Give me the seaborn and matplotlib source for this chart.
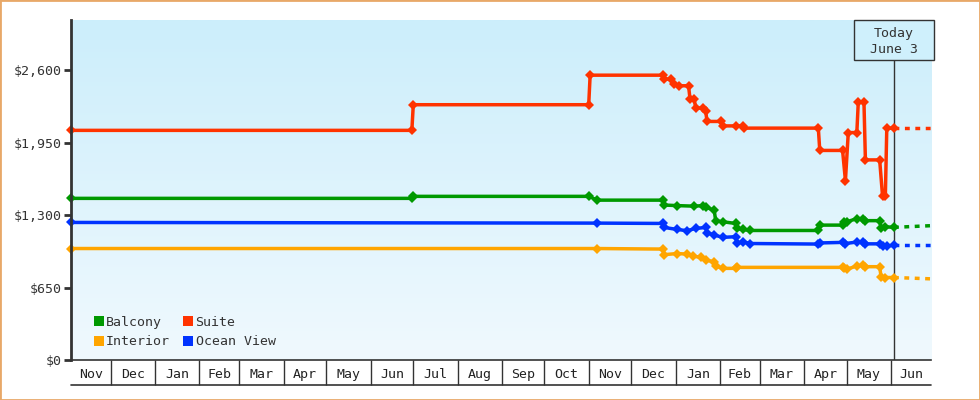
import numpy as np
import pandas as pd
import matplotlib
matplotlib.use("Agg")
import matplotlib.pyplot as plt
import matplotlib.dates as mdates
from matplotlib.lines import Line2D
from matplotlib.patches import Rectangle
from matplotlib.colors import LinearSegmentedColormap
import seaborn as sns

# ---------------- data ----------------
suite_dates = ["2017-11-03", "2018-06-30", "2018-07-01", "2018-11-01", "2018-11-02",
               "2018-12-23", "2018-12-24", "2018-12-29", "2018-12-31", "2019-01-03",
               "2019-01-10", "2019-01-11", "2019-01-14", "2019-01-15", "2019-01-20",
               "2019-01-22", "2019-01-23", "2019-02-02", "2019-02-03", "2019-02-12",
               "2019-02-17", "2019-02-18", "2019-04-11", "2019-04-12", "2019-04-28",
               "2019-04-30", "2019-05-02", "2019-05-08", "2019-05-09", "2019-05-13",
               "2019-05-14", "2019-05-24", "2019-05-26", "2019-05-28", "2019-05-29",
               "2019-06-03"]
suite_values = [2060, 2060, 2290, 2290, 2555,
                2555, 2520, 2520, 2480, 2460,
                2460, 2345, 2340, 2260, 2260,
                2230, 2140, 2140, 2100, 2100,
                2100, 2080, 2080, 1880, 1880,
                1610, 2040, 2040, 2310, 2310,
                1795, 1795, 1475, 1475, 2080,
                2080]

balcony_dates = ["2017-11-03", "2018-06-30", "2018-07-01", "2018-11-01", "2018-11-07",
                 "2018-12-23", "2018-12-24", "2019-01-02", "2019-01-14", "2019-01-20",
                 "2019-01-22", "2019-01-28", "2019-01-29", "2019-02-03", "2019-02-12",
                 "2019-02-13", "2019-02-17", "2019-02-22", "2019-04-11", "2019-04-12",
                 "2019-04-28", "2019-04-29", "2019-05-01", "2019-05-08", "2019-05-12",
                 "2019-05-14", "2019-05-24", "2019-05-25", "2019-05-28", "2019-06-03"]
balcony_values = [1450, 1450, 1468, 1468, 1434,
                  1434, 1390, 1385, 1380, 1385,
                  1370, 1345, 1249, 1240, 1225,
                  1180, 1171, 1162, 1162, 1210,
                  1210, 1235, 1240, 1268, 1268,
                  1250, 1250, 1180, 1195, 1190]

ocean_dates = ["2017-11-03", "2018-11-07", "2018-12-23", "2018-12-24", "2019-01-02",
               "2019-01-09", "2019-01-15", "2019-01-22", "2019-01-23", "2019-01-28",
               "2019-02-03", "2019-02-12", "2019-02-13", "2019-02-17", "2019-02-22",
               "2019-04-11", "2019-04-12", "2019-04-28", "2019-04-30", "2019-05-08",
               "2019-05-12", "2019-05-14", "2019-05-24", "2019-05-26", "2019-05-29",
               "2019-06-03"]
ocean_values = [1234, 1228, 1225, 1189, 1171,
                1160, 1180, 1189, 1141, 1121,
                1100, 1106, 1046, 1061, 1045,
                1040, 1050, 1055, 1045, 1058,
                1058, 1042, 1042, 1020, 1022,
                1030]

interior_dates = ["2017-11-03", "2018-11-07", "2018-12-23", "2018-12-24", "2019-01-02",
                  "2019-01-09", "2019-01-13", "2019-01-19", "2019-01-22", "2019-01-28",
                  "2019-01-29", "2019-02-03", "2019-02-12", "2019-02-13", "2019-04-28",
                  "2019-04-29", "2019-05-01", "2019-05-08", "2019-05-12", "2019-05-14",
                  "2019-05-24", "2019-05-25", "2019-05-28", "2019-06-03"]
interior_values = [1000, 1000, 995, 945, 955,
                   950, 932, 920, 896, 881,
                   843, 822, 822, 831, 831,
                   822, 815, 843, 850, 837,
                   837, 747, 740, 740]

# projection (dotted) after today
proj_dates = ["2019-06-03", "2019-06-29"]
proj_suite = [2080, 2080]
proj_balcony = [1190, 1205]
proj_ocean = [1030, 1030]
proj_interior = [740, 728]

series_names = ["Balcony", "Interior", "Suite", "Ocean View"]
series_colors = ["#009900", "#FFA500", "#FF3300", "#0033FF"]

today_date = "2019-06-03"
today_label = "Today\nJune 3"
x_start, x_end = "2017-11-03", "2019-06-29"

y_ticks = [0, 650, 1300, 1950, 2600]
y_tick_labels = ["$0", "$650", "$1,300", "$1,950", "$2,600"]
y_max = 3050

month_labels = ["Nov", "Dec", "Jan", "Feb", "Mar", "Apr", "May", "Jun", "Jul", "Aug",
                "Sep", "Oct", "Nov", "Dec", "Jan", "Feb", "Mar", "Apr", "May", "Jun"]

# ---------------- style ----------------
sns.set_style("ticks")
plt.rcParams["font.family"] = ["DejaVu Sans Mono", "DejaVu Sans"]
plt.rcParams["font.size"] = 9.5
TXT = "#333333"

W, H = 980, 400
fig = plt.figure(figsize=(W / 100, H / 100), dpi=100)
fig.patch.set_facecolor("white")
L, B, R, T = 71, 40, 931, 380
rect = [L / W, B / H, (R - L) / W, (T - B) / H]

# gradient background
bg = fig.add_axes(rect, zorder=0)
grad = np.linspace(0, 1, 256).reshape(-1, 1)
cmap = LinearSegmentedColormap.from_list("bg", ["#f0f9fe", "#cceefb"])
bg.imshow(grad, aspect="auto", cmap=cmap, origin="lower", extent=(0, 1, 0, 1))
bg.axis("off")

ax = fig.add_axes(rect, zorder=1)
ax.patch.set_alpha(0)

palette = dict(zip(series_names, series_colors))

frames = []
for name, d, v in [("Balcony", balcony_dates, balcony_values),
                   ("Interior", interior_dates, interior_values),
                   ("Suite", suite_dates, suite_values),
                   ("Ocean View", ocean_dates, ocean_values)]:
    frames.append(pd.DataFrame({"date": pd.to_datetime(d), "price": v, "cabin": name}))
df = pd.concat(frames, ignore_index=True)

pframes = []
for name, v in [("Balcony", proj_balcony), ("Interior", proj_interior),
                ("Suite", proj_suite), ("Ocean View", proj_ocean)]:
    pframes.append(pd.DataFrame({"date": pd.to_datetime(proj_dates), "price": v, "cabin": name}))
pdf = pd.concat(pframes, ignore_index=True)

sns.lineplot(data=pdf, x="date", y="price", hue="cabin", palette=palette,
             estimator=None, sort=False, linewidth=2.5, linestyle=(0, (1.4, 1.6)),
             legend=False, ax=ax)
sns.lineplot(data=df, x="date", y="price", hue="cabin", palette=palette,
             estimator=None, sort=False, linewidth=2.5, marker="D", markersize=5.2,
             markeredgewidth=0, legend=False, ax=ax, clip_on=False)

ax.set_xlim(pd.Timestamp(x_start), pd.Timestamp(x_end))
ax.set_ylim(0, y_max)
ax.set_xlabel("")
ax.set_ylabel("")

# y axis
ax.set_yticks(y_ticks)
ax.set_yticklabels(y_tick_labels)
ax.tick_params(axis="y", length=5, width=2, color=TXT, pad=2, labelcolor=TXT, labelsize=9.5)
for s in ["top", "right"]:
    ax.spines[s].set_visible(False)
ax.spines["left"].set_linewidth(2)
ax.spines["left"].set_color(TXT)
ax.spines["bottom"].set_linewidth(1.2)
ax.spines["bottom"].set_color(TXT)

# x axis: month table
xs, xe = pd.Timestamp(x_start), pd.Timestamp(x_end)
month_starts = pd.date_range("2017-11-01", periods=len(month_labels) + 1, freq="MS")
bounds = [m for m in month_starts if xs < m < xe]
centers = []
for i in range(len(month_labels)):
    a = max(month_starts[i], xs)
    b = min(month_starts[i + 1], xe)
    centers.append(a + (b - a) / 2)
ax.set_xticks(mdates.date2num(bounds))
ax.set_xticklabels([""] * len(bounds))
ax.set_xticks(mdates.date2num(centers), minor=True)
ax.set_xticklabels(month_labels, minor=True)
ax.tick_params(axis="x", which="major", length=18, width=1, color=TXT, direction="out")
ax.tick_params(axis="x", which="minor", length=0, pad=6, labelcolor="#222222", labelsize=9.5)
fig.add_artist(Line2D([L / W, R / W], [15 / H, 15 / H], transform=fig.transFigure,
                      color=TXT, lw=1.2))

# today marker
ax.axvline(pd.Timestamp(today_date), color=TXT, lw=1, zorder=0.5)
fig.add_artist(Rectangle((854 / W, 340 / H), 80 / W, 40 / H, transform=fig.transFigure,
                         facecolor="#cff0fc", edgecolor=TXT, lw=1, zorder=5))
fig.text(894 / W, (H - 41.5) / H, today_label, ha="center", va="center",
         color=TXT, fontsize=9.5, linespacing=1.35, zorder=6)

# legend
handles = [Line2D([], [], ls="none", marker="s", markersize=7.5, mew=0, color=palette[n])
           for n in series_names]
ax.legend(handles, series_names, ncol=2, loc="upper left", bbox_to_anchor=(0.026, 0.13),
          frameon=False, handlelength=0.8, handletextpad=0.15, columnspacing=1.0,
          labelspacing=0.5, borderpad=0, borderaxespad=0, fontsize=9.5,
          labelcolor=TXT)

# outer border
fig.add_artist(Rectangle((0, 0), 1, 1, transform=fig.transFigure, fill=False,
                         edgecolor="#E8A868", lw=2, zorder=10))

fig.savefig("out.png", dpi=100)
